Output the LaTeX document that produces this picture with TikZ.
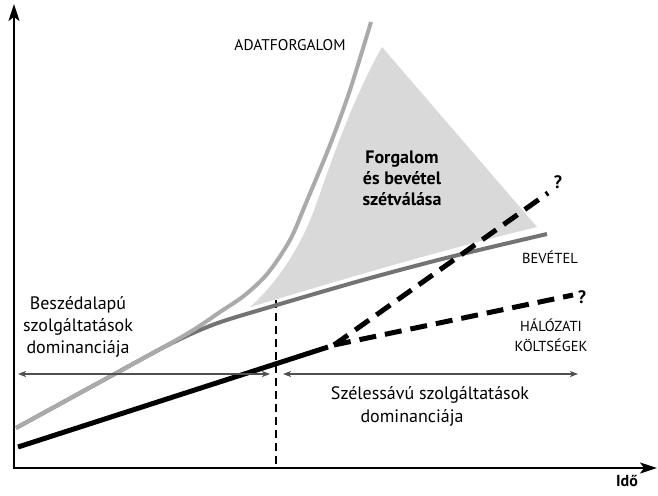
\documentclass[tikz,border=0pt]{standalone}
\usepackage{fontspec}
\setmainfont{PT Sans}
\usetikzlibrary{arrows.meta}
\definecolor{trafficgray}{HTML}{AAAAAA}
\definecolor{revgray}{HTML}{737373}
\definecolor{fillgray}{HTML}{D9D9D9}
\definecolor{thingray}{HTML}{505050}
\begin{document}
\begin{tikzpicture}[x=1pt,y=-1pt,
  lbl/.style={inner sep=0pt, font=\fontsize{18}{22}\selectfont, align=center},
  boldlbl/.style={inner sep=0pt, font=\fontsize{18}{21}\selectfont\bfseries, align=center},
  caps/.style={inner sep=0pt, font=\fontsize{14.5}{20}\selectfont, align=center},
  axisline/.style={line width=2pt, {Stealth[length=17pt,width=11pt,inset=4pt]}-{Stealth[length=17pt,width=11pt,inset=4pt]}},
  spanline/.style={line width=1.2pt, draw=thingray, {Stealth[length=8pt,width=6pt,inset=2pt]}-{Stealth[length=8pt,width=6pt,inset=2pt]}},
  halo/.style={draw=white, line width=11pt},
  trafficline/.style={draw=trafficgray, line width=4pt},
  revline/.style={draw=revgray, line width=4pt},
  costline/.style={draw=black, line width=5pt},
  costdash/.style={draw=black, line width=5pt, dash pattern=on 17pt off 9pt},
  splitline/.style={draw=black, line width=1.3pt, dash pattern=on 8pt off 5pt}]
\useasboundingbox (0,0) rectangle (658,495);

% axes
\coordinate (O) at (14,468);
\coordinate (ytip) at (14,4);
\coordinate (xtip) at (657,468);

% gap region
\fill[fillgray] (382,47) -- (537,227) .. controls (450,248) and (330,282) .. (248,309)
  .. controls (275,285) and (300,250) .. (316,205)
  .. controls (335,150) and (355,95) .. (382,47) -- cycle;

% halos
\draw[halo] plot[smooth] coordinates {(16,428) (100,382) (185,335) (220,312) (245,295) (268,273) (290,240) (306,203) (330,145) (350,90) (371,22)};
\draw[halo] plot[smooth] coordinates {(16,428) (100,382) (170,344) (215,324) (270,307) (363,280) (450,257) (547,234)};

% split line
\coordinate (splittop) at (276,300);
\coordinate (splitbot) at (276,468);
\draw[splitline] (splittop) -- (splitbot);

% revenue and traffic
\draw[revline] plot[smooth] coordinates {(16,428) (100,382) (170,344) (215,324) (270,307) (363,280) (450,257) (547,234)};
\draw[trafficline] plot[smooth] coordinates {(16,428) (100,382) (185,335) (220,312) (245,295) (268,273) (290,240) (306,203) (330,145) (350,90) (371,22)};

% network costs
\coordinate (c0) at (18,447);
\coordinate (c1) at (328,347);
\coordinate (c2) at (334,345);
\coordinate (cup) at (548,193);
\coordinate (clow) at (573,295);
\draw[costline] (c0) -- (c1);
\draw[costdash] (c2) -- (cup);
\draw[costdash] (c2) -- (clow);

% axes on top
\draw[axisline] (ytip) -- (O) -- (xtip);

% spans
\coordinate (s1a) at (18,374);
\coordinate (s1b) at (270,374);
\coordinate (s2a) at (283,374);
\coordinate (s2b) at (578,374);
\draw[spanline] (s1a) -- (s1b);
\draw[spanline] (s2a) -- (s2b);

% labels
\node[inner sep=0pt, font=\fontsize{15.5}{20}\selectfont] (adat) at (290,45) {ADATFORGALOM};
\node[boldlbl] (gap) at (402,178) {Forgalom\\és bevétel\\szétválása};
\node[caps] (bev) at (550,257) {BEVÉTEL};
\node[caps] (halo) at (551,335) {HÁLÓZATI\\KÖLTSÉGEK};
\node[boldlbl] (q1) at (558,182) {?};
\node[boldlbl] (q2) at (582,297) {?};
\node[lbl] (voice) at (78,327) {Beszédalapú\\szolgáltatások\\dominanciája};
\node[lbl] (broad1) at (430,395) {Szélessávú szolgáltatások};
\node[lbl] (broad2) at (412,418) {dominanciája};
\node[inner sep=0pt, font=\fontsize{16}{20}\selectfont\bfseries] (ido) at (627,481) {Idő};
\end{tikzpicture}
\end{document}
